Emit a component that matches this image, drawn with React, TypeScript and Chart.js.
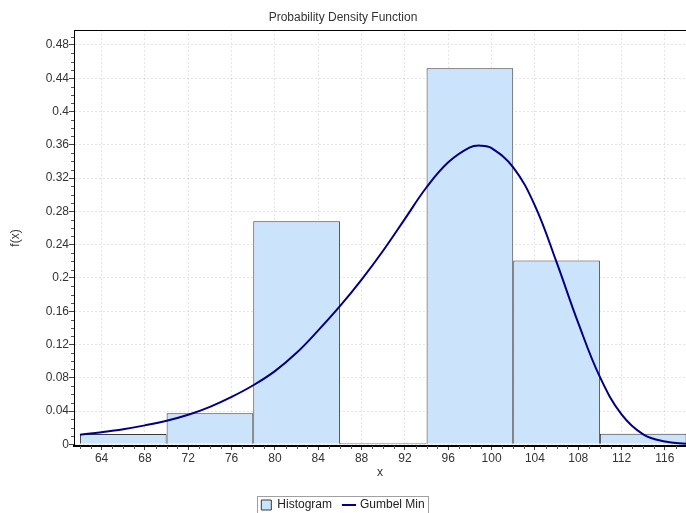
import React, { useEffect, useRef } from "react";
import { Chart, registerables } from "chart.js";

Chart.register(...registerables);

// Histogram bins (centres, width 8) and their heights
const binCenters = [66, 74, 82, 90, 98, 106, 114];
const binValues = [0.0125, 0.0375, 0.268, 0.0015, 0.452, 0.221, 0.0128];

// Gumbel Min curve
const curveX = [62, 64, 66, 68, 70, 72, 74, 76, 78, 80, 82, 84, 86, 88, 90, 92, 94, 96, 98, 99, 100, 102, 104, 106, 108, 110, 112, 114, 116, 118];
const curveY = [0.0116, 0.0146, 0.0182, 0.0228, 0.0283, 0.0355, 0.045, 0.057, 0.071, 0.088, 0.11, 0.137, 0.166, 0.198, 0.233, 0.271, 0.309, 0.339, 0.357, 0.359, 0.356, 0.333, 0.287, 0.219, 0.146, 0.081, 0.036, 0.012, 0.0033, 0.0007];

// Tick labels
const xTicks = [64, 68, 72, 76, 80, 84, 88, 92, 96, 100, 104, 108, 112, 116];
const yTicks = [0, 0.04, 0.08, 0.12, 0.16, 0.2, 0.24, 0.28, 0.32, 0.36, 0.4, 0.44, 0.48];

const X_MIN = 61.45;
const X_MAX = 117.95;
const Y_MIN = -0.002;
const Y_MAX = 0.498;
const Y_MINOR = 0.01;
const X_MINOR = 1;

const FONT = "'Liberation Sans', Arial, sans-serif";

const decorPlugin = {
  id: "decor",
  afterDraw(chart: any) {
    const { ctx, chartArea: a, scales } = chart;
    const x = scales.x;
    const y = scales.y;
    ctx.save();
    // top border of plot
    ctx.strokeStyle = "#000";
    ctx.lineWidth = 1;
    ctx.beginPath();
    ctx.moveTo(a.left, Math.round(a.top) + 0.5);
    ctx.lineTo(a.right, Math.round(a.top) + 0.5);
    ctx.stroke();
    // minor ticks
    ctx.strokeStyle = "#555";
    ctx.beginPath();
    const nY = Math.round(Y_MAX / Y_MINOR);
    for (let i = 1; i <= nY; i++) {
      if (i % 4 === 0) continue;
      const py = Math.round(y.getPixelForValue(i * Y_MINOR)) + 0.5;
      if (py < a.top) continue;
      ctx.moveTo(a.left - 3, py);
      ctx.lineTo(a.left, py);
    }
    for (let v = Math.ceil(X_MIN); v <= X_MAX; v += X_MINOR) {
      if (v % 4 === 0) continue;
      const px = Math.round(x.getPixelForValue(v)) + 0.5;
      ctx.moveTo(px, a.bottom);
      ctx.lineTo(px, a.bottom + 3);
    }
    ctx.stroke();
    // legend frame
    const lg = chart.legend;
    if (lg && lg.legendHitBoxes && lg.legendHitBoxes.length) {
      let l = Infinity, r = -Infinity, t = Infinity, b = -Infinity;
      for (const h of lg.legendHitBoxes) {
        l = Math.min(l, h.left);
        r = Math.max(r, h.left + h.width);
        t = Math.min(t, h.top);
        b = Math.max(b, h.top + h.height);
      }
      ctx.strokeStyle = "#a0a0a0";
      ctx.lineWidth = 1;
      ctx.strokeRect(Math.round(l - 4) + 0.5, Math.round(t - 3) + 0.5, Math.round(r - l + 8), Math.round(b - t + 6));
    }
    ctx.restore();
  },
};

export default function App() {
  const ref = useRef<HTMLCanvasElement | null>(null);

  useEffect(() => {
    if (!ref.current) return;
    Chart.defaults.font.family = FONT;
    const chart = new Chart(ref.current, {
      type: "bar",
      data: {
        datasets: [
          {
            type: "line",
            label: "Gumbel Min",
            data: curveX.map((v, i) => ({ x: v, y: curveY[i] })),
            borderColor: "#000080",
            backgroundColor: "#000080",
            borderWidth: 2,
            pointRadius: 0,
            fill: false,
            tension: 0.4,
          } as any,
          {
            type: "bar",
            label: "Histogram",
            data: binCenters.map((v, i) => ({ x: v, y: binValues[i] })),
            backgroundColor: "rgb(204,228,251)",
            borderColor: "#3a3a3a",
            borderWidth: 1,
            barPercentage: 1,
            // tick spacing (4) is half the bin width (8), so span two tick gaps
            categoryPercentage: 2,
          } as any,
        ],
      },
      options: {
        responsive: false,
        animation: false,
        layout: { padding: { left: 0, right: 0, top: 0, bottom: -8 } },
        plugins: {
          title: {
            display: true,
            text: "Probability Density Function",
            color: "#333",
            font: { size: 12, weight: "normal", family: FONT },
            padding: { top: 10, bottom: 5.6 },
          },
          legend: {
            display: true,
            position: "bottom",
            labels: {
              usePointStyle: true,
              boxWidth: 10,
              boxHeight: 10,
              padding: 12,
              color: "#222",
              font: { size: 12, family: FONT },
              sort: (a: any, b: any) => b.datasetIndex - a.datasetIndex,
              generateLabels: (chart: any) => {
                const items = (Chart.defaults.plugins.legend.labels as any).generateLabels(chart);
                return items.map((it: any) => ({
                  ...it,
                  pointStyle: it.datasetIndex === 0 ? "line" : "rect",
                }));
              },
            },
          },
          tooltip: { enabled: false },
        },
        scales: {
          x: {
            type: "linear",
            min: X_MIN,
            max: X_MAX,
            offset: false,
            afterBuildTicks: (s: any) => {
              s.ticks = xTicks.map((v) => ({ value: v }));
            },
            afterFit: (s: any) => {
              s.height = 41;
            },
            grid: {
              offset: false,
              color: "rgba(0,0,0,0.1)",
              lineWidth: 1,
              tickLength: 4,
              tickColor: "#444",
              drawTicks: true,
            },
            border: { display: true, color: "#000", width: 2, dash: [2, 2] },
            ticks: {
              autoSkip: false,
              maxRotation: 0,
              padding: 1,
              color: "#333",
              font: { size: 12, family: FONT },
              callback: (v: any) => String(v),
            },
            title: {
              display: true,
              text: "x",
              color: "#333",
              font: { size: 12, family: FONT },
              padding: { top: 0, bottom: 7.3 },
            },
          },
          y: {
            type: "linear",
            min: Y_MIN,
            max: Y_MAX,
            afterBuildTicks: (s: any) => {
              s.ticks = yTicks.map((v) => ({ value: v }));
            },
            afterFit: (s: any) => {
              s.width = 74;
            },
            grid: {
              color: "rgba(0,0,0,0.1)",
              lineWidth: 1,
              tickLength: 5,
              tickColor: "#444",
            },
            border: { display: true, color: "#000", width: 1, dash: [2, 2] },
            ticks: {
              autoSkip: false,
              padding: 0,
              color: "#333",
              font: { size: 12, family: FONT },
              callback: (v: any) => String(Number(Number(v).toFixed(2))),
            },
            title: {
              display: true,
              text: "f(x)",
              color: "#333",
              font: { size: 12, family: FONT },
              padding: { top: 8, bottom: 0 },
            },
          },
        },
      } as any,
      plugins: [decorPlugin],
    });
    return () => chart.destroy();
  }, []);

  return (
    <div style={{ position: "fixed", left: 0, top: 0, width: 686, height: 513, background: "#fff" }}>
      <canvas ref={ref} width={686} height={513} style={{ display: "block", width: 686, height: 513 }} />
    </div>
  );
}
